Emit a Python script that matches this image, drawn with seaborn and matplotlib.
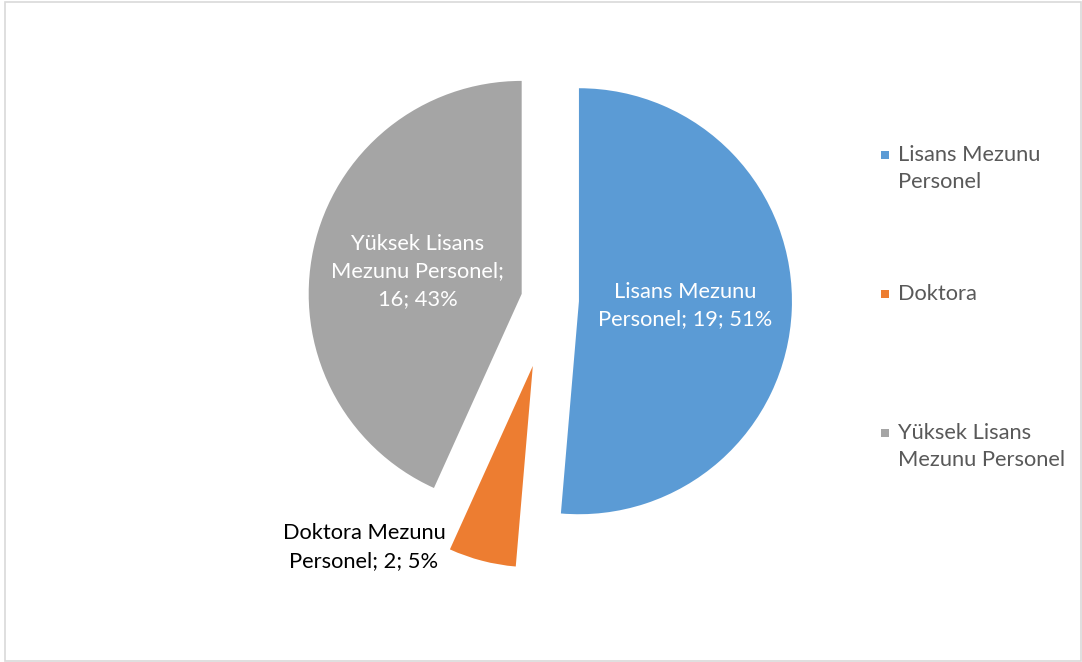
import numpy as np
import seaborn as sns
import matplotlib
matplotlib.use("Agg")
import matplotlib.pyplot as plt
from matplotlib.patches import Rectangle

# veriler
kategoriler = ["Lisans Mezunu Personel", "Doktora Mezunu Personel", "Yüksek Lisans Mezunu Personel"]
lejant_etiketleri = ["Lisans Mezunu\nPersonel", "Doktora", "Yüksek Lisans\nMezunu Personel"]
degerler = [19, 2, 16]
etiket_metinleri = ["Lisans Mezunu\nPersonel; 19; 51%", "Doktora Mezunu\nPersonel; 2; 5%",
                    "Yüksek Lisans\nMezunu Personel;\n16; 43%"]

sns.set_style("white")
plt.rcParams['font.family'] = ['Lato', 'DejaVu Sans']
renkler = ["#5B9BD5", "#ED7D31", "#A5A5A5"]
FS = 15.75
LS = 1.45

W, H = 1082, 662
fig = plt.figure(figsize=(W / 100, H / 100), dpi=100)
ax = fig.add_axes([0, 0, 1, 1])
R = 213.0
cx, cy = 550.0, 300.0
ax.axis('off')

dilimler, _ = ax.pie(degerler, colors=renkler, startangle=90, counterclock=False,
                     explode=[0.136, 0.32, 0.136], radius=1.0,
                     wedgeprops=dict(linewidth=0))
# 1 birim = R piksel
ax.set_xlim(-cx / R, (W - cx) / R)
ax.set_ylim(-(H - cy) / R, cy / R)
ax.set_aspect('auto')
dilimler[1].set_radius(0.945)

# etiketler
for i, d in enumerate(dilimler):
    orta = np.deg2rad((d.theta1 + d.theta2) / 2)
    x0, y0 = d.center
    if i == 1:
        ax.text(-186 / R, -247 / R, etiket_metinleri[i], ha='center', va='center',
                fontsize=FS, color='black', linespacing=LS)
    else:
        ax.text(x0 + 0.5 * np.cos(orta), y0 + 0.5 * np.sin(orta), etiket_metinleri[i],
                ha='center', va='center', fontsize=FS, color='white', linespacing=LS)

# lejant
lejant_y = [155, 294, 433]
for lbl, renk, y in zip(lejant_etiketleri, renkler, lejant_y):
    fig.patches.append(Rectangle(((885 - 4) / W, 1 - (y + 4) / H), 8 / W, 8 / H,
                                 transform=fig.transFigure, facecolor=renk, edgecolor='none'))
    fig.text(898 / W, 1 - (y - 10) / H, lbl, ha='left', va='top', fontsize=FS, color='#595959',
             linespacing=LS, transform=fig.transFigure)

# kenarlik
fig.patches.append(Rectangle((4.5 / W, 1.5 / H), (W - 6) / W, (H - 3.5) / H, transform=fig.transFigure,
                             facecolor='none', edgecolor='#D9D9D9', linewidth=1.2))

plt.savefig('out.png', dpi=100)
